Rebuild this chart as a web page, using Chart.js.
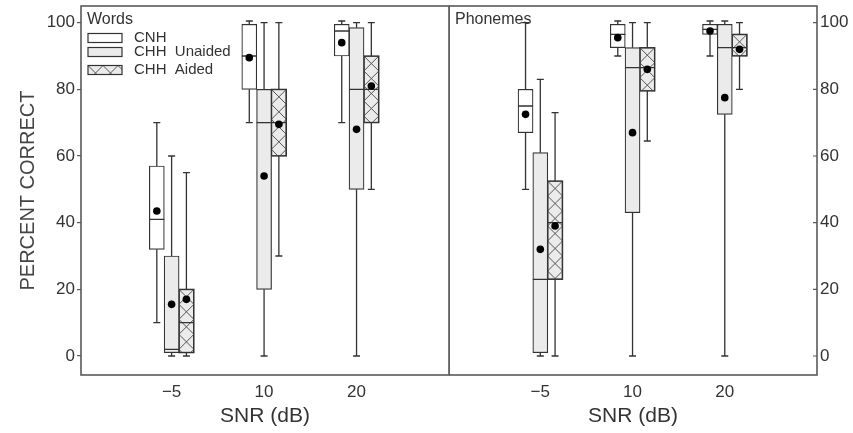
<!DOCTYPE html>
<html>
<head>
<meta charset="utf-8">
<script src="https://cdn.jsdelivr.net/npm/chart.js@4/dist/chart.umd.min.js"></script>
<style>
  body { margin: 0; background: #fff; }
  #left { position: absolute; left: 0; top: 0; width: 450px; height: 433px; }
  #right { position: absolute; left: 449px; top: 0; width: 404px; height: 433px; }
</style>
</head>
<body>
<div id="left"><canvas id="words"></canvas></div>
<div id="right"><canvas id="phonemes"></canvas></div>
<script>
const snrLabels = ["\u22125", "10", "20"];
const groupNames = ["CNH", "CHH  Unaided", "CHH  Aided"];
const yTicks = [0, 20, 40, 60, 80, 100];

// box stats per SNR: [min, q1, median, q3, max]
const wordsCNH = [[10, 32, 41, 57, 70], [70, 80, 90, 99.5, 100.5], [70, 90, 97.5, 99.5, 100.5]];
const wordsUnaided = [[0, 1, 2, 30, 60], [0, 20, 70, 80, 100], [0, 50, 80, 98.5, 100]];
const wordsAided = [[0, 1, 10, 20, 55], [30, 60, 70, 80, 100], [50, 70, 80, 90, 100]];
const wordsCNHMean = [43.5, 89.5, 94];
const wordsUnaidedMean = [15.5, 54, 68];
const wordsAidedMean = [17, 69.5, 81];

const phonCNH = [[50, 67, 75, 80, 100], [90, 92.5, 96.5, 99.5, 100.5], [90, 96.5, 98, 99.5, 100.5]];
const phonUnaided = [[0, 1, 23, 61, 83], [0, 43, 86.5, 92.5, 100], [0, 72.5, 92.5, 99.5, 100.5]];
const phonAided = [[0, 23, 40, 52.5, 73], [64.5, 79.5, 86.5, 92.5, 100], [80, 90, 92.5, 96.5, 100]];
const phonCNHMean = [72.5, 95.5, 97.5];
const phonUnaidedMean = [32, 67, 77.5];
const phonAidedMean = [39, 86, 92];

// look
const groupOffset = [-0.16, 0, 0.16];
const fills = ["#ffffff", "#ebebeb", "#ebebeb"];
const lineCol = "#333";
const frameCol = "#5a5a5a";
const textCol = "#333";

function drawHatch(ctx, x, y, w, h, s) {
    ctx.save();
    ctx.beginPath();
    ctx.rect(x, y, w, h);
    ctx.clip();
    ctx.beginPath();
    for (let k = -Math.ceil(h / s) * s; k <= w + h; k += s) {
        ctx.moveTo(x + k, y); ctx.lineTo(x + k + h, y + h);
        ctx.moveTo(x + k + s, y); ctx.lineTo(x + k + s - h, y + h);
    }
    ctx.strokeStyle = "#555";
    ctx.lineWidth = 1;
    ctx.stroke();
    ctx.restore();
}

// whiskers, medians, hatching
const boxPlugin = {
    id: "boxes",
    afterDatasetDraw(chart, args) {
        const ds = chart.data.datasets[args.index];
        if (!ds.stats) return;
        const ctx = chart.ctx;
        const y = chart.scales.y;
        args.meta.data.forEach((bar, i) => {
            const [mn, q1, med, q3, mx] = ds.stats[i];
            const half = bar.width / 2;
            const top = y.getPixelForValue(q3), bot = y.getPixelForValue(q1);
            if (ds.hatch) {
                drawHatch(ctx, bar.x - half, top, bar.width, bot - top, bar.width);
                ctx.strokeStyle = lineCol;
                ctx.lineWidth = 1.2;
                ctx.strokeRect(bar.x - half, top, bar.width, bot - top);
            }
            ctx.save();
            ctx.strokeStyle = lineCol;
            ctx.lineWidth = 1.3;
            ctx.beginPath();
            const pMax = y.getPixelForValue(mx), pMin = y.getPixelForValue(mn);
            ctx.moveTo(bar.x, top); ctx.lineTo(bar.x, pMax);
            ctx.moveTo(bar.x - 3.5, pMax); ctx.lineTo(bar.x + 3.5, pMax);
            ctx.moveTo(bar.x, bot); ctx.lineTo(bar.x, pMin);
            ctx.moveTo(bar.x - 3.5, pMin); ctx.lineTo(bar.x + 3.5, pMin);
            const pMed = y.getPixelForValue(med);
            ctx.moveTo(bar.x - half, pMed); ctx.lineTo(bar.x + half, pMed);
            ctx.stroke();
            ctx.restore();
        });
    },
    afterDraw(chart) {
        const ctx = chart.ctx;
        const a = chart.chartArea;
        const o = chart.options.plugins.boxes;
        ctx.save();
        ctx.strokeStyle = frameCol;
        ctx.lineWidth = 1.6;
        ctx.strokeRect(a.left, a.top, a.right - a.left, a.bottom - a.top);
        if (o.innerTicks) {
            ctx.lineWidth = 1.2;
            ctx.beginPath();
            yTicks.forEach(v => {
                const p = chart.scales.y.getPixelForValue(v);
                ctx.moveTo(a.right - 4, p); ctx.lineTo(a.right, p);
            });
            ctx.stroke();
        }
        ctx.fillStyle = textCol;
        ctx.textBaseline = "middle";
        ctx.font = "16px 'Liberation Sans', Arial, sans-serif";
        ctx.fillText(o.title, a.left + 6, a.top + 14);
        if (o.legend) {
            ctx.font = "15px 'Liberation Sans', Arial, sans-serif";
            const rows = [38, 52, 70];
            chart.data.datasets.filter(d => d.stats).forEach((d, i) => {
                const sx = a.left + 7, sy = a.top + rows[i] - 6 - 4.5;
                ctx.fillStyle = d.backgroundColor;
                ctx.fillRect(sx, sy, 34, 9);
                if (d.hatch) drawHatch(ctx, sx, sy, 34, 9, 15);
                ctx.strokeStyle = lineCol;
                ctx.lineWidth = 1.2;
                ctx.strokeRect(sx, sy, 34, 9);
                ctx.fillStyle = textCol;
                ctx.fillText(d.label, a.left + 53, a.top + rows[i] - 6);
            });
        }
        ctx.restore();
    }
};

function makeChart(id, boxes, means, side) {
    const datasets = [];
    boxes.forEach((stats, g) => {
        datasets.push({
            type: "bar",
            label: groupNames[g],
            stats: stats,
            hatch: g === 2,
            data: stats.map((s, i) => ({ x: i + groupOffset[g], y: [s[1], s[3]] })),
            backgroundColor: fills[g],
            borderColor: lineCol,
            borderWidth: 1.2,
            borderSkipped: false,
            barThickness: 15,
            grouped: false,
            order: 2
        });
    });
    means.forEach((m, g) => {
        datasets.push({
            type: "scatter",
            label: groupNames[g] + " mean",
            data: m.map((v, i) => ({ x: i + groupOffset[g], y: v })),
            backgroundColor: "#000",
            borderWidth: 0,
            pointRadius: 3.8,
            order: 0
        });
    });
    const left = side === "left";
    return new Chart(document.getElementById(id), {
        type: "bar",
        data: { datasets },
        options: {
            responsive: true,
            maintainAspectRatio: false,
            animation: false,
            layout: { autoPadding: false, padding: { top: 6, right: left ? 1 : 0, left: 0, bottom: 0 } },
            plugins: {
                legend: { display: false },
                tooltip: { enabled: false },
                boxes: { title: left ? "Words" : "Phonemes", legend: left, innerTicks: !left }
            },
            scales: {
                x: {
                    type: "linear",
                    offset: false,
                    min: left ? -0.98 : -0.99,
                    max: 3.0,
                    afterBuildTicks: s => { s.ticks = snrLabels.map((l, i) => ({ value: i })); },
                    afterFit: s => { s.height = 58; s.paddingLeft = 0; s.paddingRight = 0; },
                    grid: { display: false, drawTicks: false },
                    border: { display: false },
                    ticks: {
                        callback: v => snrLabels[v],
                        color: textCol,
                        padding: 7,
                        maxRotation: 0,
                        font: { family: "'Liberation Sans', Arial, sans-serif", size: 17 }
                    },
                    title: {
                        display: true,
                        text: "SNR (dB)",
                        color: textCol,
                        padding: { top: 0, bottom: 4 },
                        font: { family: "'Liberation Sans', Arial, sans-serif", size: 21 }
                    }
                },
                y: {
                    position: left ? "left" : "right",
                    min: -5.7,
                    max: 105,
                    afterBuildTicks: s => { s.ticks = yTicks.map(v => ({ value: v })); },
                    afterFit: s => { s.width = left ? 81 : 36; s.paddingTop = 0; s.paddingBottom = 0; },
                    grid: { drawOnChartArea: false, drawTicks: left, tickLength: 4, color: frameCol, lineWidth: 1.2 },
                    border: { display: false },
                    ticks: {
                        color: textCol,
                        padding: left ? 2 : 3,
                        font: { family: "'Liberation Sans', Arial, sans-serif", size: 17 }
                    },
                    title: {
                        display: left,
                        text: "PERCENT CORRECT",
                        color: "#444",
                        padding: { top: 16, bottom: 0 },
                        font: { family: "'Liberation Sans', Arial, sans-serif", size: 20 }
                    }
                }
            }
        },
        plugins: [boxPlugin]
    });
}

makeChart("words", [wordsCNH, wordsUnaided, wordsAided], [wordsCNHMean, wordsUnaidedMean, wordsAidedMean], "left");
makeChart("phonemes", [phonCNH, phonUnaided, phonAided], [phonCNHMean, phonUnaidedMean, phonAidedMean], "right");
</script>
</body>
</html>
